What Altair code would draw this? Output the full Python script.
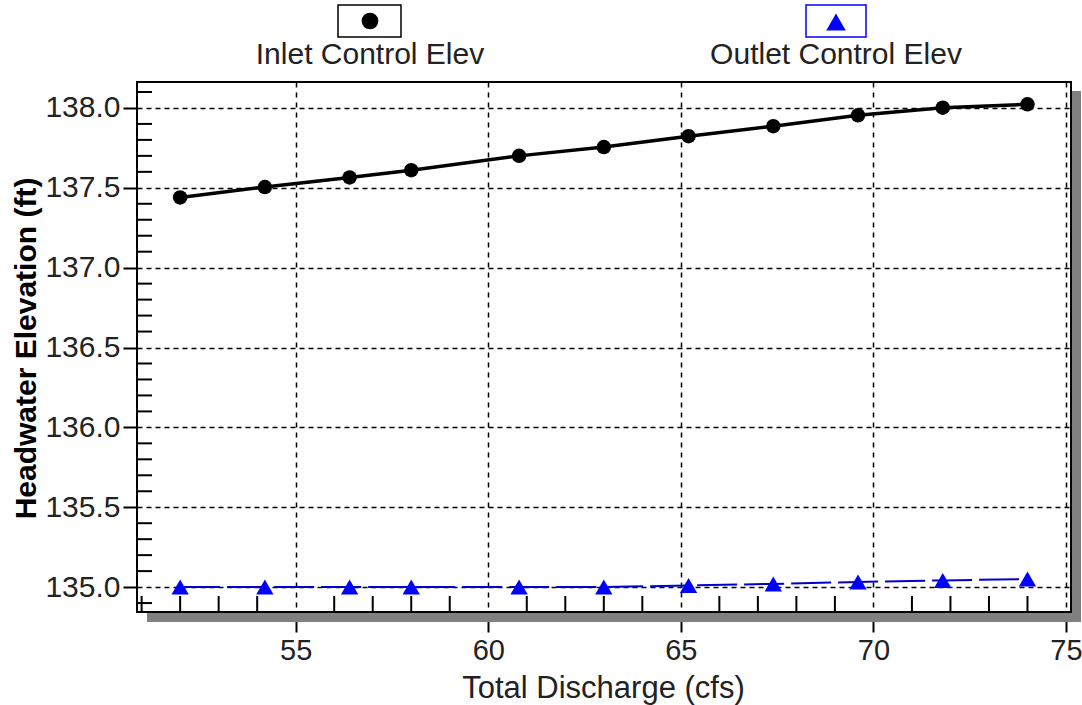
import altair as alt
import pandas as pd

# ---- data ----
discharge = [52, 54.2, 56.4, 58, 60.8, 63, 65.2, 67.4, 69.6, 71.8, 74]
inlet_elev = [137.44, 137.505, 137.565, 137.61, 137.70, 137.755, 137.823,
              137.886, 137.954, 138.002, 138.023]
outlet_elev = [135.0, 135.0, 135.0, 135.0, 135.0, 135.0, 135.01, 135.02,
               135.032, 135.042, 135.05]

x_ticks = [55, 60, 65, 70, 75]
y_ticks = [135.0, 135.5, 136.0, 136.5, 137.0, 137.5, 138.0]
x_minor = [51, 52, 53, 54, 56, 57, 58, 59, 61, 62, 63, 64, 66, 67, 68, 69,
           71, 72, 73, 74]
y_minor = [134.9, 135.1, 135.2, 135.3, 135.4, 135.6, 135.7, 135.8, 135.9,
           136.1, 136.2, 136.3, 136.4, 136.6, 136.7, 136.8, 136.9,
           137.1, 137.2, 137.3, 137.4, 137.6, 137.7, 137.8, 137.9, 138.1]

series_names = ["Inlet Control Elev", "Outlet Control Elev"]
x_title = "Total Discharge (cfs)"
y_title = "Headwater Elevation (ft)"

# ---- layout ----
W, H = 934, 530
FONT = "Liberation Sans"

df_in = pd.DataFrame({"Q": discharge, "HW": inlet_elev})
df_out = pd.DataFrame({"Q": discharge, "HW": outlet_elev})
df_xm = pd.DataFrame({"Q": x_minor})
df_ym = pd.DataFrame({"HW": y_minor})
one = pd.DataFrame({"a": [0]})

xscale = alt.Scale(domain=[50.88, 75.13], nice=False, zero=False)
yscale = alt.Scale(domain=[134.844, 138.1625], nice=False, zero=False)

xaxis = alt.Axis(values=x_ticks, format="d", grid=True, gridColor="black",
                 gridDash=[5, 5], gridWidth=1.5, domain=False, tickSize=20,
                 tickWidth=2, tickColor="black", labelFont=FONT,
                 labelFontSize=29, labelColor="#222222", labelPadding=4,
                 title=x_title, titleFont=FONT, titleFontSize=31,
                 titleFontWeight="normal", titleColor="#222222",
                 titleX=466, titleY=76, titleAlign="center",
                 titleBaseline="middle")
yaxis = alt.Axis(values=y_ticks, format=".1f", grid=True, gridColor="black",
                 gridDash=[5, 4], gridWidth=1.5, domain=False, tickSize=14,
                 tickWidth=2, tickColor="black", labelFont=FONT,
                 labelFontSize=30, labelColor="#222222", labelPadding=3,
                 title=y_title, titleFont=FONT, titleFontSize=30,
                 titleFontWeight="bold", titleColor="black",
                 titleX=-111, titleY=266, titleAngle=270, titleAlign="center",
                 titleBaseline="middle")

x_enc = alt.X("Q:Q", scale=xscale, axis=xaxis)
y_enc = alt.Y("HW:Q", scale=yscale, axis=yaxis)

shadow_r = alt.Chart(one).mark_rect(color="#808080").encode(
    x=alt.value(W + 1), x2=alt.value(W + 10), y=alt.value(9), y2=alt.value(H + 10))
shadow_b = alt.Chart(one).mark_rect(color="#808080").encode(
    x=alt.value(10), x2=alt.value(W + 10), y=alt.value(H + 1), y2=alt.value(H + 10))

xminor = alt.Chart(df_xm).mark_rule(color="black", strokeWidth=2).encode(
    x=x_enc, y=alt.value(H), y2=alt.value(H - 16))
yminor = alt.Chart(df_ym).mark_rule(color="black", strokeWidth=2).encode(
    y=y_enc, x=alt.value(0), x2=alt.value(15))

in_line = alt.Chart(df_in).mark_line(color="black", strokeWidth=3.5).encode(x=x_enc, y=y_enc)
in_pts = alt.Chart(df_in).mark_point(shape="circle", filled=True, size=210,
                                     color="black", opacity=1).encode(x=x_enc, y=y_enc)
out_line = alt.Chart(df_out).mark_line(color="#0000CC", strokeWidth=2,
                                       strokeDash=[40, 7]).encode(x=x_enc, y=y_enc)
out_pts = alt.Chart(df_out).mark_point(shape="triangle-up", filled=True, size=300,
                                       color="#0000FF", opacity=1).encode(x=x_enc, y=y_enc)

# ---- legend (top) ----
box1 = alt.Chart(one).mark_rect(fill="white", stroke="black", strokeWidth=1.5).encode(
    x=alt.value(201), x2=alt.value(264), y=alt.value(-77), y2=alt.value(-45))
box2 = alt.Chart(one).mark_rect(fill="white", stroke="#0000FF", strokeWidth=1.5).encode(
    x=alt.value(669), x2=alt.value(729), y=alt.value(-77), y2=alt.value(-45))
sym1 = alt.Chart(one).mark_point(shape="circle", filled=True, size=280, color="black",
                                 opacity=1).encode(x=alt.value(233), y=alt.value(-61))
sym2 = alt.Chart(one).mark_point(shape="triangle-up", filled=True, size=380,
                                 color="#0000FF", opacity=1).encode(x=alt.value(699), y=alt.value(-60))
lab1 = alt.Chart(one).mark_text(text=series_names[0], font=FONT, fontSize=30,
                                color="#222222", align="center", baseline="middle").encode(
    x=alt.value(233), y=alt.value(-27))
lab2 = alt.Chart(one).mark_text(text=series_names[1], font=FONT, fontSize=30,
                                color="#222222", align="center", baseline="middle").encode(
    x=alt.value(699), y=alt.value(-27))

chart = alt.layer(
    shadow_r, shadow_b, xminor, yminor, out_line, out_pts, in_line, in_pts,
    box1, box2, sym1, sym2, lab1, lab2
).properties(
    width=W, height=H,
    autosize=alt.AutoSizeParams(type="none"),
    padding={"left": 137, "top": 82, "right": 11, "bottom": 93},
    background="white",
).configure_view(stroke="black", strokeWidth=2, fill="white")

chart.save("out.html", embed_options={"renderer": "svg", "actions": False})
